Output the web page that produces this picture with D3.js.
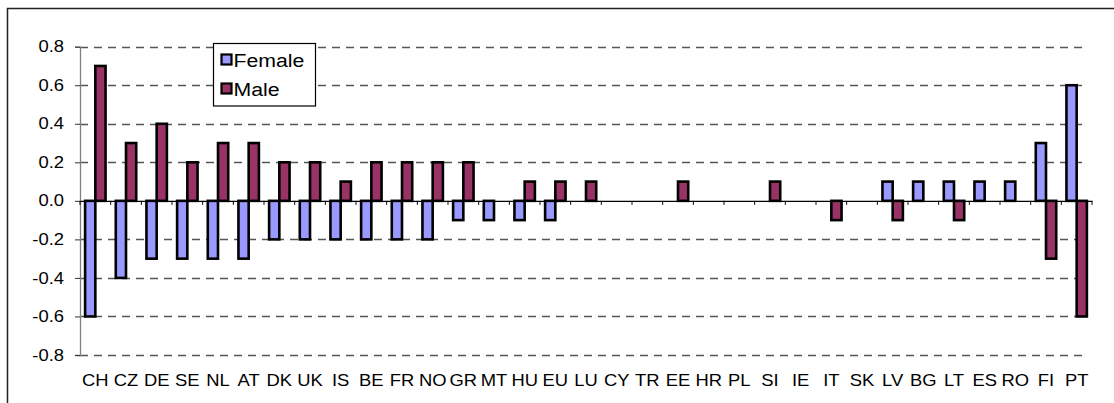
<!DOCTYPE html>
<html>
<head>
<meta charset="utf-8">
<script src="https://d3js.org/d3.v7.min.js"></script>
<style>
  body { margin:0; background:#fff; }
  svg text { font-family: Arial, "Liberation Sans", sans-serif; fill:#000; }
</style>
</head>
<body>
<div id="chart"></div>
<script>
// chart values
var countries = ["CH","CZ","DE","SE","NL","AT","DK","UK","IS","BE","FR","NO","GR","MT","HU","EU","LU","CY","TR","EE","HR","PL","SI","IE","IT","SK","LV","BG","LT","ES","RO","FI","PT"];
var female = [-0.6,-0.4,-0.3,-0.3,-0.3,-0.3,-0.2,-0.2,-0.2,-0.2,-0.2,-0.2,-0.1,-0.1,-0.1,-0.1,0,0,0,0,0,0,0,0,0,0,0.1,0.1,0.1,0.1,0.1,0.3,0.6];
var male   = [0.7,0.3,0.4,0.2,0.3,0.3,0.2,0.2,0.1,0.2,0.2,0.2,0.2,0,0.1,0.1,0.1,0,0,0.1,0,0,0.1,0,-0.1,0,-0.1,0,-0.1,0,0,-0.3,-0.6];
var seriesNames = ["Female","Male"];
var seriesColors = ["#9999FF","#993366"];
var yTicks = [-0.8,-0.6,-0.4,-0.2,0,0.2,0.4,0.6,0.8];

var width = 1114, height = 403;
var plotLeft = 80, plotRight = 1092, plotTop = 46.7, plotBottom = 355;
var stretch = 1.15; // text in the picture is a little wider than plain Arial

var svg = d3.select("#chart").append("svg")
    .attr("width", width)
    .attr("height", height);

// outer frame (only top and left edges show in the picture)
svg.append("path")
    .attr("d", "M7.5," + height + "V8.5H" + width)
    .attr("fill", "none")
    .attr("stroke", "#222")
    .attr("stroke-width", 1.5);

var x = d3.scaleBand().domain(countries).range([plotLeft, plotRight]);
var x1 = d3.scaleBand().domain(seriesNames).range([0, x.bandwidth()]).paddingOuter(0.5);
var y = d3.scaleLinear().domain([-0.8, 0.8]).range([plotBottom, plotTop]);

// gridlines
svg.append("g").selectAll("line")
    .data(yTicks.filter(function(d){ return d !== 0; }))
    .enter().append("line")
    .attr("x1", plotLeft).attr("x2", plotRight - 4)
    .attr("y1", function(d){ return Math.round(y(d)) + 0.5; })
    .attr("y2", function(d){ return Math.round(y(d)) + 0.5; })
    .attr("stroke", "#555")
    .attr("stroke-width", 1.4)
    .attr("stroke-dasharray", "8,6");

// y axis, hyphen minus like the original
var fmt = d3.format(".1f");
var yAxis = d3.axisLeft(y).tickValues(yTicks).tickSize(5)
    .tickFormat(function(d){ return fmt(d).replace("\u2212", "-"); });
var gy = svg.append("g")
    .attr("transform", "translate(" + plotLeft + ",0)")
    .call(yAxis);
gy.select(".domain").attr("stroke", "#808080").attr("stroke-width", 1.3);
gy.selectAll(".tick line").attr("stroke", "#333");
gy.selectAll(".tick text")
    .attr("font-size", 16)
    .style("font-family", "Arial, 'Liberation Sans', sans-serif")
    .attr("x", null)
    .attr("transform", "translate(-16,0) scale(" + stretch + ",1)");

// bars
var data = countries.map(function(c, i){
  return { c: c, vals: [female[i], male[i]] };
});
var groups = svg.append("g").selectAll("g")
    .data(data)
    .enter().append("g")
    .attr("transform", function(d){ return "translate(" + x(d.c) + ",0)"; });
groups.selectAll("rect")
    .data(function(d){
      return d.vals.map(function(v, k){ return { s: seriesNames[k], v: v, k: k }; })
        .filter(function(e){ return e.v !== 0; });
    })
    .enter().append("rect")
    .attr("x", function(e){ return x1(e.s); })
    .attr("width", x1.bandwidth())
    .attr("y", function(e){ return y(Math.max(0, e.v)); })
    .attr("height", function(e){ return Math.abs(y(e.v) - y(0)); })
    .attr("fill", function(e){ return seriesColors[e.k]; })
    .attr("stroke", "#000")
    .attr("stroke-width", 2.6);

// x axis at zero
var xAxis = d3.axisBottom(x).tickSize(0).tickFormat("");
var gx = svg.append("g")
    .attr("transform", "translate(0," + y(0) + ")")
    .call(xAxis);
gx.select(".domain").attr("stroke", "#000").attr("stroke-width", 1.2);
gx.selectAll(".tick").remove();
// ticks on category boundaries
gx.selectAll("line.bt")
    .data(d3.range(countries.length + 1))
    .enter().append("line")
    .attr("class", "bt")
    .attr("x1", function(i){ return plotLeft + i * x.step(); })
    .attr("x2", function(i){ return plotLeft + i * x.step(); })
    .attr("y1", 0).attr("y2", 4)
    .attr("stroke", "#000");

// category labels at bottom
svg.append("g").selectAll("text")
    .data(countries)
    .enter().append("text")
    .attr("transform", function(d){
      return "translate(" + (x(d) + x.bandwidth() / 2) + ",386) scale(" + stretch + ",1)";
    })
    .attr("text-anchor", "middle")
    .attr("font-size", 16)
    .text(function(d){ return d; });

// legend
var legend = svg.append("g").attr("transform", "translate(213.5,43.5)");
legend.append("rect")
    .attr("width", 102).attr("height", 62.5)
    .attr("fill", "#fff").attr("stroke", "#000").attr("stroke-width", 1.2);
var items = legend.selectAll("g.item")
    .data(seriesNames)
    .enter().append("g")
    .attr("class", "item")
    .attr("transform", function(d, i){ return "translate(8," + (11 + i * 29) + ")"; });
items.append("rect")
    .attr("width", 10).attr("height", 10)
    .attr("fill", function(d, i){ return seriesColors[i]; })
    .attr("stroke", "#000").attr("stroke-width", 2.2);
items.append("text")
    .attr("transform", "translate(12,12) scale(1.12,1)")
    .attr("font-size", 19)
    .text(function(d){ return d; });
</script>
</body>
</html>
